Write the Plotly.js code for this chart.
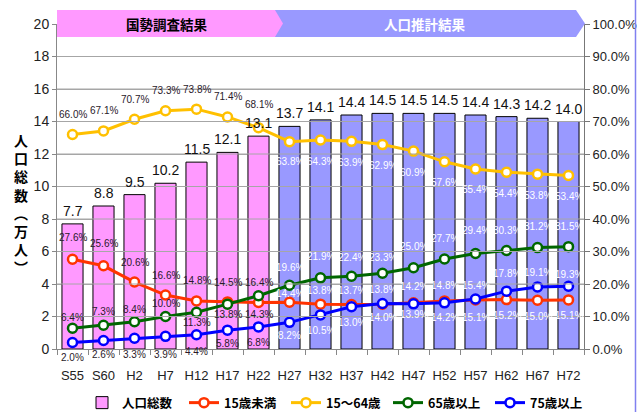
<!DOCTYPE html>
<html>
<head>
<meta charset="utf-8">
<script src="https://cdn.plot.ly/plotly-3.0.1.min.js"></script>
<style>html,body{margin:0;padding:0;background:#fff;}#chart{width:637px;height:412px;}</style>
</head>
<body>
<div id="chart"></div>
<script>
// ---- data ----
const categories = ['S55','S60','H2','H7','H12','H17','H22','H27','H32','H37','H42','H47','H52','H57','H62','H67','H72'];
const totalPop  = [7.7, 8.8, 9.5, 10.2, 11.5, 12.1, 13.1, 13.7, 14.1, 14.4, 14.5, 14.5, 14.5, 14.4, 14.3, 14.2, 14.0];
const under15   = [27.6, 25.6, 20.6, 16.6, 14.8, 14.5, 14.3, 14.4, 13.8, 13.7, 13.8, 14.2, 14.8, 15.1, 15.2, 15.0, 15.1];
const age15to64 = [66.0, 67.1, 70.7, 73.3, 73.8, 71.4, 68.1, 63.8, 64.3, 63.9, 62.9, 60.9, 57.6, 55.4, 54.4, 53.8, 53.4];
const over65    = [6.4, 7.3, 8.4, 10.0, 11.3, 13.8, 16.4, 19.6, 21.9, 22.4, 23.3, 25.0, 27.7, 29.4, 30.3, 31.2, 31.5];
const over75    = [2.0, 2.6, 3.3, 3.9, 4.4, 5.8, 6.8, 8.2, 10.5, 13.0, 14.0, 13.9, 14.2, 15.4, 17.8, 19.1, 19.3];
const seriesNames = ['人口総数', '15歳未満', '15～64歳', '65歳以上', '75歳以上'];
const censusCount = 7; // S55..H22 are census results, the rest projections
const bannerTexts = ['国勢調査結果', '人口推計結果'];
const yTitle = '人口総数︵万人︶';

// ---- styles ----
const NARROW = "'Liberation Sans Narrow','Arial Narrow',sans-serif";
const CJK = "'Noto Sans CJK JP','Noto Sans CJK SC',sans-serif";
const PINK = '#FF99FF', BLUE_BAR = '#9999FF';
const colors = {under15:'#FF3300', age15to64:'#FFC000', over65:'#006600', over75:'#0000FF'};
// label pixel offsets (positive = above point)
const offYellow = [20,20,20,20,20,20,23,-20,-21,-21,-21,-21,-21,-21,-21,-21,-21];
const offRed    = [22,22,20,20,20,19,-12,9,14,14,15,16,15,-18,-16,-16,-16];
const offGreen  = [11,14,12,13,-10,-10,13,18,21,19,16,21,20,23,20,21,20];
const offBlue   = [-15,-14,-16,-18,-17,-13,-16,-13,-16,-16,-14,-11,-15,13,18,14,12];

const W = 637, H = 412, L = 57, R = 584, T = 24, B = 349;
const px = x => (x - L) / (R - L);
const py = y => (B - y) / (B - T);

const barColors = categories.map((c, i) => i < censusCount ? PINK : BLUE_BAR);

const traces = [
  {type:'bar', name:seriesNames[0], x:categories, y:totalPop, width:0.68,
   marker:{color:barColors, line:{color:'#000', width:1}}, hoverinfo:'skip'},
];
function lineTrace(name, vals, color){
  return {type:'scatter', mode:'lines+markers', name:name, x:categories, y:vals, yaxis:'y2',
    line:{color:color, width:3}, marker:{symbol:'circle', size:9, color:'#fff', line:{color:color, width:2.5}},
    cliponaxis:false, hoverinfo:'skip'};
}
traces.push(lineTrace(seriesNames[1], under15, colors.under15));
traces.push(lineTrace(seriesNames[2], age15to64, colors.age15to64));
traces.push(lineTrace(seriesNames[3], over65, colors.over65));
traces.push(lineTrace(seriesNames[4], over75, colors.over75));

const annotations = [];
// bar total labels
categories.forEach((c, i) => {
  annotations.push({x:c, y:totalPop[i], xref:'x', yref:'y', text:totalPop[i].toFixed(1), showarrow:false,
    yshift:13, font:{family:NARROW, size:14, color:'#111'}});
});
function pctLabels(vals, offs){
  categories.forEach((c, i) => {
    annotations.push({x:c, y:vals[i], xref:'x', yref:'y2', text:vals[i].toFixed(1) + '%', showarrow:false,
      yshift:offs[i], font:{family:NARROW, size:10, color: i < censusCount ? '#2a1a2a' : '#ffffff'}});
  });
}
pctLabels(age15to64, offYellow);
pctLabels(under15, offRed);
pctLabels(over65, offGreen);
pctLabels(over75, offBlue);

// banners text
annotations.push({xref:'paper', yref:'paper', x:px(167), y:py(23.5), xanchor:'center', yanchor:'middle',
  text:bannerTexts[0], showarrow:false, font:{family:CJK, size:13.5, color:'#000', weight:'bold'}});
annotations.push({xref:'paper', yref:'paper', x:px(425), y:py(23.5), xanchor:'center', yanchor:'middle',
  text:bannerTexts[1], showarrow:false, font:{family:CJK, size:13.5, color:'#fff', weight:'bold'}});
// vertical y title
annotations.push({xref:'paper', yref:'paper', x:px(21), y:py(203), xanchor:'center', yanchor:'middle',
  text:yTitle.split('').join('<br>'), showarrow:false,
  font:{family:CJK, size:14, color:'#000', weight:'bold'}});

function pathPx(pts){
  return 'M ' + pts.map(p => px(p[0]).toFixed(5) + ' ' + py(p[1]).toFixed(5)).join(' L ') + ' Z';
}
const shapes = [
  {type:'path', xref:'paper', yref:'paper', path:pathPx([[270,10],[576,10],[585,23.5],[576,37],[270,37]]),
   fillcolor:BLUE_BAR, line:{width:0}, layer:'above'},
  {type:'path', xref:'paper', yref:'paper', path:pathPx([[57,10],[275,10],[283,23.5],[275,37],[57,37]]),
   fillcolor:PINK, line:{width:0}, layer:'above'},
  {type:'line', xref:'paper', yref:'paper', x0:px(635.5), x1:px(635.5), y0:py(0), y1:py(412),
   line:{color:'#8080F0', width:1.5}}
];
// gridlines drawn over bars (as in reference)
for (let g = 2; g <= 18; g += 2) {
  shapes.push({type:'line', xref:'paper', yref:'y', x0:0, x1:1, y0:g, y1:g, line:{color:'#A6A6A6', width:1}, layer:'above'});
}

const layout = {
  width:W, height:H,
  margin:{l:L, r:W - R, t:T, b:H - B, pad:0, autoexpand:false},
  paper_bgcolor:'#fff', plot_bgcolor:'#fff',
  showlegend:true,
  legend:{orientation:'h', xref:'container', yref:'container', x:82/W, y:(H - 403)/H, xanchor:'left', yanchor:'middle',
    font:{family:CJK, size:12.5, color:'#000', weight:'bold'}, entrywidth:57, entrywidthmode:'pixels',
    itemwidth:30, tracegroupgap:0, bgcolor:'rgba(0,0,0,0)'},
  xaxis:{type:'category', categoryorder:'array', categoryarray:categories, range:[-0.5, categories.length - 0.5],
    showline:true, linecolor:'#888', linewidth:1, ticks:'outside', tickson:'boundaries', ticklen:5,
    tickcolor:'#888', showgrid:false, zeroline:false, tickangle:0, ticklabelstandoff:14,
    tickfont:{family:NARROW, size:13, color:'#222'}},
  yaxis:{range:[0,20], dtick:2, showgrid:true, gridcolor:'#A6A6A6', showline:true, linecolor:'#888',
    ticks:'outside', ticklen:4, tickcolor:'#888', zeroline:false,
    tickfont:{family:NARROW, size:14, color:'#222'}},
  yaxis2:{overlaying:'y', side:'right', range:[0,100], dtick:10, tickformat:'.1f', ticksuffix:'%',
    showgrid:false, showline:true, linecolor:'#777', ticks:'outside', ticklen:5, tickcolor:'#777', zeroline:false,
    tickfont:{family:NARROW, size:13, color:'#222'}},
  annotations:annotations,
  shapes:shapes
};

Plotly.newPlot('chart', traces, layout, {staticPlot:true, displayModeBar:false});
</script>
</body>
</html>
